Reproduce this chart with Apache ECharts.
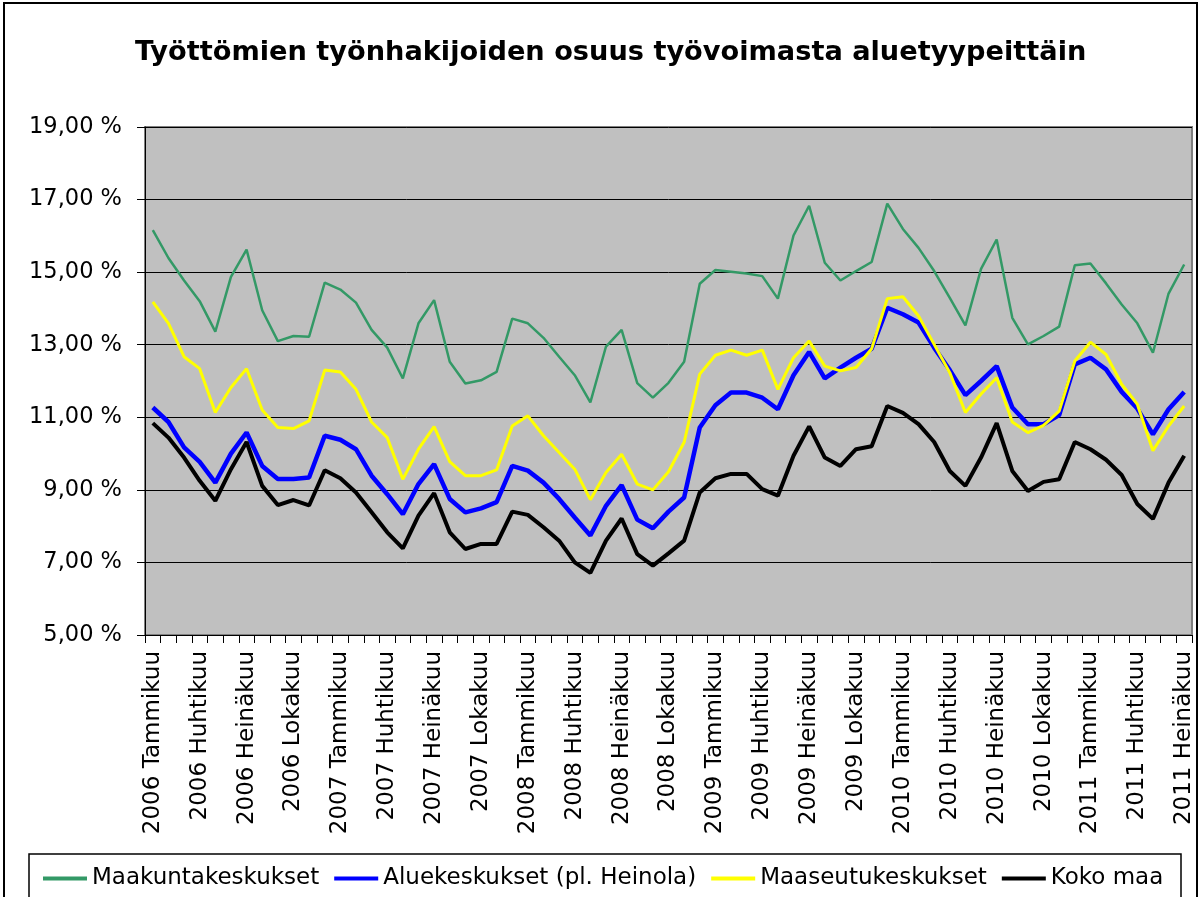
<!DOCTYPE html>
<html>
<head>
<meta charset="utf-8">
<title>Työttömien työnhakijoiden osuus</title>
<script src="https://cdn.jsdelivr.net/npm/echarts@6/dist/echarts.min.js"></script>
<style>
  html, body { margin: 0; padding: 0; background: #fff; }
  #lineChart { width: 1200px; height: 897px; }
</style>
</head>
<body>
<div id="lineChart"></div>
<script>
// kuukaudet 2006 tammikuu .. 2011 heinäkuu
var years = [2006, 2007, 2008, 2009, 2010, 2011];
var months = ["Tammikuu", "Helmikuu", "Maaliskuu", "Huhtikuu", "Toukokuu", "Kesäkuu",
  "Heinäkuu", "Elokuu", "Syyskuu", "Lokakuu", "Marraskuu", "Joulukuu"];
var monthCount = 67;

var seriesNames = ["Maakuntakeskukset", "Aluekeskukset (pl. Heinola)", "Maaseutukeskukset", "Koko maa"];

var maakuntakeskukset = [
  16.16, 15.39, 14.77, 14.20, 13.36, 14.87, 15.62, 13.95, 13.10, 13.24, 13.22, 14.71,
  14.52, 14.16, 13.41, 12.92, 12.07, 13.59, 14.23, 12.53, 11.93, 12.02, 12.25, 13.72,
  13.59, 13.19, 12.67, 12.16, 11.41, 12.95, 13.41, 11.94, 11.54, 11.95, 12.53, 14.68,
  15.06, 15.01, 14.96, 14.89, 14.27, 16.01, 16.83, 15.26, 14.77, 15.03, 15.28, 16.89,
  16.19, 15.67, 15.03, 14.29, 13.53, 15.09, 15.90, 13.74, 13.01, 13.24, 13.50, 15.19,
  15.24, 14.69, 14.11, 13.59, 12.78, 14.41, 15.21
];
var aluekeskukset = [
  11.27, 10.87, 10.17, 9.77, 9.20, 10.00, 10.58, 9.66, 9.30, 9.30, 9.34, 10.49,
  10.38, 10.12, 9.39, 8.88, 8.33, 9.16, 9.71, 8.75, 8.38, 8.49, 8.66, 9.66,
  9.53, 9.20, 8.75, 8.24, 7.74, 8.56, 9.13, 8.18, 7.94, 8.40, 8.79, 10.72,
  11.33, 11.68, 11.68, 11.54, 11.22, 12.16, 12.80, 12.07, 12.37, 12.64, 12.89, 14.02,
  13.84, 13.61, 12.92, 12.30, 11.61, 12.00, 12.41, 11.27, 10.81, 10.81, 11.06, 12.46,
  12.64, 12.32, 11.70, 11.24, 10.53, 11.22, 11.70
];
var maaseutukeskukset = [
  14.18, 13.59, 12.67, 12.34, 11.13, 11.82, 12.34, 11.20, 10.72, 10.69, 10.90, 12.30,
  12.25, 11.77, 10.87, 10.44, 9.29, 10.12, 10.74, 9.78, 9.39, 9.39, 9.55, 10.76,
  11.04, 10.49, 10.03, 9.57, 8.73, 9.48, 9.98, 9.16, 9.00, 9.50, 10.31, 12.19,
  12.71, 12.85, 12.71, 12.85, 11.77, 12.64, 13.10, 12.41, 12.28, 12.37, 12.89, 14.27,
  14.32, 13.79, 13.01, 12.23, 11.13, 11.64, 12.09, 10.87, 10.58, 10.78, 11.17, 12.55,
  13.07, 12.73, 11.91, 11.36, 10.08, 10.76, 11.31
];
var kokoMaa = [
  10.84, 10.44, 9.89, 9.25, 8.70, 9.57, 10.32, 9.11, 8.58, 8.72, 8.57, 9.54,
  9.32, 8.93, 8.38, 7.83, 7.39, 8.29, 8.91, 7.83, 7.37, 7.51, 7.51, 8.40,
  8.31, 7.97, 7.60, 7.00, 6.71, 7.60, 8.21, 7.23, 6.91, 7.25, 7.60, 8.93,
  9.32, 9.44, 9.44, 9.02, 8.84, 9.94, 10.75, 9.89, 9.66, 10.12, 10.20, 11.31,
  11.12, 10.81, 10.32, 9.52, 9.11, 9.89, 10.84, 9.52, 8.97, 9.22, 9.29, 10.32,
  10.12, 9.83, 9.41, 8.61, 8.20, 9.20, 9.94
];

var categoryData = [];
years.forEach(function (y) {
  months.forEach(function (m) {
    if (categoryData.length < monthCount) categoryData.push(y + " " + m);
  });
});

var font = "DejaVu Sans";
var lineChart = echarts.init(document.getElementById("lineChart"));

function makeSeries(name, data, color, width) {
  return {
    name: name,
    type: "line",
    data: data,
    symbol: "none",
    lineStyle: { color: color, width: width },
    itemStyle: { color: color },
    emphasis: { disabled: true },
  };
}

var option = {
  backgroundColor: "#ffffff",
  animation: false,
  title: {
    text: "Työttömien työnhakijoiden osuus työvoimasta aluetyypeittäin",
    left: 130,
    top: 34,
    textStyle: { fontFamily: font, fontWeight: "bold", fontSize: 27.2, color: "#000" },
  },
  legend: {
    data: seriesNames,
    left: 38,
    top: 862,
    icon: "rect",
    itemWidth: 44,
    itemHeight: 4,
    itemGap: 15,
    textStyle: { fontFamily: font, fontSize: 23, color: "#000" },
  },
  grid: {
    left: 145,
    right: 8,
    top: 127,
    bottom: 262,
    show: true,
    backgroundColor: "#c0c0c0",
    borderColor: "#808080",
    borderWidth: 2,
  },
  xAxis: {
    type: "category",
    data: categoryData,
    boundaryGap: true,
    axisLine: { lineStyle: { color: "#000", width: 1 } },
    axisTick: { show: true, interval: 0, length: 8, lineStyle: { color: "#000" } },
    axisLabel: {
      interval: 2,
      rotate: 90,
      margin: 16,
      fontFamily: font,
      fontSize: 23,
      color: "#000",
    },
    splitLine: { show: false },
  },
  yAxis: {
    type: "value",
    min: 5,
    max: 19,
    interval: 2,
    axisLine: { show: true, lineStyle: { color: "#000", width: 1 } },
    axisTick: { show: true, length: 8, lineStyle: { color: "#000" } },
    axisLabel: {
      margin: 23,
      fontFamily: font,
      fontSize: 22.5,
      color: "#000",
      formatter: function (v) {
        return v.toFixed(2).replace(".", ",") + " %";
      },
    },
    splitLine: { show: true, lineStyle: { color: "#000", width: 1 } },
  },
  graphic: [
    {
      type: "rect",
      shape: { x: 4, y: 3, width: 1193, height: 900 },
      style: { fill: "transparent", stroke: "#000", lineWidth: 2 },
      silent: true,
    },
    {
      type: "rect",
      shape: { x: 29, y: 854, width: 1152, height: 50 },
      style: { fill: "transparent", stroke: "#000", lineWidth: 1.5 },
      silent: true,
    },
  ],
  series: [
    makeSeries(seriesNames[0], maakuntakeskukset, "#339966", 2.5),
    makeSeries(seriesNames[1], aluekeskukset, "#0000ff", 4.5),
    makeSeries(seriesNames[2], maaseutukeskukset, "#ffff00", 3),
    makeSeries(seriesNames[3], kokoMaa, "#000000", 4),
  ],
};
lineChart.setOption(option);
</script>
</body>
</html>
